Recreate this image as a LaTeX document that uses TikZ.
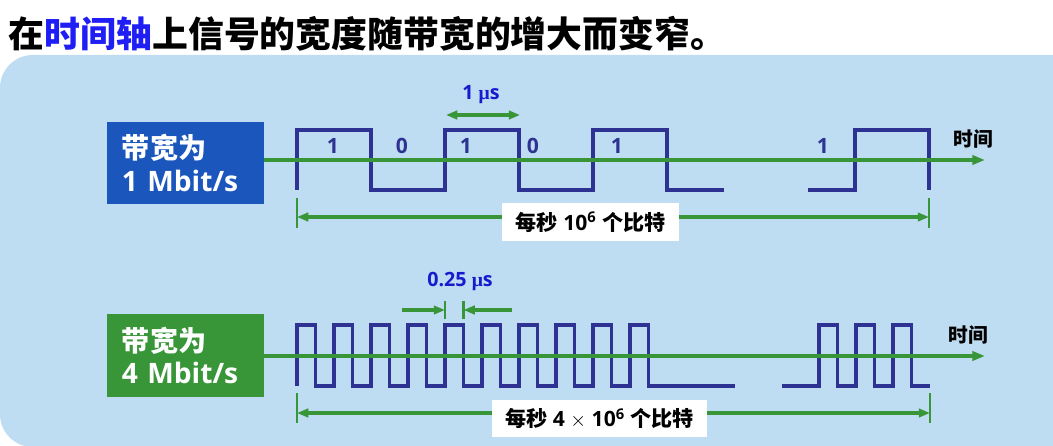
\documentclass[tikz,border=0pt]{standalone}
\usepackage{fontspec}
\setmainfont{Open Sans}[BoldFont={Open Sans Bold}]
\newfontfamily\cjk{Noto Sans CJK SC}
\newfontfamily\grk{Liberation Serif}
\usetikzlibrary{arrows.meta}

\definecolor{panelblue}{RGB}{190,220,242}
\definecolor{rateblue}{RGB}{26,86,188}
\definecolor{rategreen}{RGB}{56,150,56}
\definecolor{signalblue}{RGB}{46,50,146}
\definecolor{titleblue}{RGB}{30,30,245}
\definecolor{unitblue}{RGB}{25,25,205}

\begin{document}
\begin{tikzpicture}[x=0.025cm, y=-0.025cm, font=\bfseries,
  >={Triangle[length=8pt,width=6pt]},
  ratebox/.style={fill=#1, text=white, minimum width=3.925cm, minimum height=2.05cm,
    text width=3.175cm, align=left, inner sep=0pt, font=\fontsize{20}{23}\selectfont\bfseries},
  axisline/.style={draw=rategreen, line width=2.4pt, -{Triangle[length=9pt,width=6.5pt]}},
  wave/.style={draw=signalblue, line width=2.8pt},
  bitlabel/.style={text=signalblue, font=\fontsize{15}{18}\selectfont\bfseries},
  timelabel/.style={font=\cjk\fontsize{14}{16}\selectfont\bfseries},
  unitlabel/.style={text=unitblue, font=\fontsize{14}{16}\selectfont\bfseries},
  dimline/.style={draw=rategreen, line width=2.2pt},
  tick/.style={draw=rategreen, line width=1.5pt},
  countbox/.style={fill=white, minimum height=0.94cm, inner sep=0pt,
    font=\fontsize{15}{17}\selectfont\bfseries}]
\useasboundingbox (0,0) rectangle (1053,446);
\fill[panelblue, rounded corners=0.82cm] (0,55) rectangle (1120,447);

% title
\node[anchor=west, font=\cjk\fontsize{25.5}{30}\selectfont\bfseries] (title) at (4,34)
  {在\textcolor{titleblue}{时间轴}上信号的宽度随带宽的增大而变窄。};

% 1 Mbit/s
\node[ratebox=rateblue] (rate1) at (185.5,163) {{\cjk 带宽为}\\1 Mbit/s};
\draw[wave] (297,190) -- (297,130) -- (371,130) -- (371,190) -- (445,190) -- (445,130)
  -- (519,130) -- (519,190) -- (593,190) -- (593,130) -- (667,130) -- (667,190) -- (724,190);
\draw[wave] (808,190) -- (855,190) -- (855,130) -- (929,130) -- (929,190);
\coordinate (axis1end) at (985,160);
\draw[axisline] (rate1.east |- axis1end) -- (axis1end);
\node[timelabel] (time1) at (973,139) {时间};
\foreach \x/\b [count=\i] in {333/1,402/0,466/1,533/0,617/1,823/1}
  \node[bitlabel] (bit\i) at (\x,146) {\b};

\node[unitlabel] (us1) at (481,95) {1 {\grk μ}s};
\coordinate (us1l) at (446,115);
\coordinate (us1r) at (520,115);
\draw[dimline, <->] (us1l) -- (us1r);

\draw[tick] (297,198) -- (297,228);
\draw[tick] (929,198) -- (929,228);
\node[countbox, minimum width=4.425cm] (count1) at (590.5,222)
  {{\cjk 每秒} 10\textsuperscript{6} {\cjk 个比特}};
\coordinate (span1l) at (297,217);
\coordinate (span1r) at (929,217);
\draw[dimline, ->] (count1.west |- span1l) -- (span1l);
\draw[dimline, ->] (count1.east |- span1r) -- (span1r);

% 4 Mbit/s
\node[ratebox=rategreen] (rate4) at (185.5,355.5) {{\cjk 带宽为}\\4 Mbit/s};
\draw[wave] (297,386) \foreach \k in {0,...,9} {
  -- ++(0,-61) -- ++(18.5,0) -- ++(0,61) -- ++(18.5,0)} -- (735,386);
\draw[wave] (782,386) -- (819,386) \foreach \k in {0,1,2} {
  -- ++(0,-61) -- ++(18.5,0) -- ++(0,61) -- ++(18.5,0)};
\coordinate (axis4end) at (985,356);
\draw[axisline] (rate4.east |- axis4end) -- (axis4end);
\node[timelabel] (time4) at (968,335) {时间};

\node[unitlabel] (us4) at (460,281) {0.25 {\grk μ}s};
\coordinate (q1) at (445,310);
\coordinate (q2) at (463.5,310);
\coordinate (q1from) at (402,310);
\coordinate (q2from) at (512,310);
\draw[tick] (445,301) -- (445,319);
\draw[tick] (463.5,301) -- (463.5,319);
\draw[dimline, ->] (q1from) -- (q1);
\draw[dimline, ->] (q2from) -- (q2);

\draw[tick] (297,393) -- (297,423);
\draw[tick] (930,393) -- (930,423);
\node[countbox, minimum width=5.375cm] (count4) at (599.5,418.5)
  {{\cjk 每秒} 4 $\times$ 10\textsuperscript{6} {\cjk 个比特}};
\coordinate (span4l) at (297,413);
\coordinate (span4r) at (930,413);
\draw[dimline, ->] (count4.west |- span4l) -- (span4l);
\draw[dimline, ->] (count4.east |- span4r) -- (span4r);
\end{tikzpicture}
\end{document}
